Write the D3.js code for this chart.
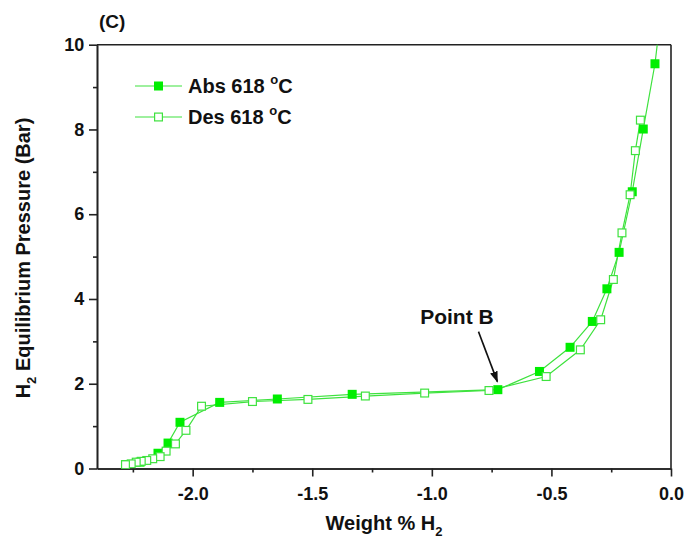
<!DOCTYPE html>
<html><head><meta charset="utf-8">
<script src="https://cdn.jsdelivr.net/npm/d3@7"></script>
<style>body{margin:0;background:#fff}text{font-family:Arial,"Liberation Sans",sans-serif;font-weight:bold}</style>
</head><body><svg id="c" width="686" height="547"></svg>
<script>
const absX = [-2.28, -2.22, -2.145, -2.103, -2.053, -1.887, -1.646, -1.333, -0.724, -0.55, -0.422, -0.329, -0.268, -0.217, -0.162, -0.116, -0.067, -0.045];
const absY = [0.09, 0.15, 0.36, 0.60, 1.09, 1.56, 1.64, 1.75, 1.86, 2.29, 2.86, 3.47, 4.24, 5.10, 6.53, 8.01, 9.55, 10.6];
const desX = [-0.128, -0.149, -0.171, -0.205, -0.241, -0.294, -0.379, -0.522, -0.761, -1.030, -1.278, -1.518, -1.75, -1.963, -2.028, -2.072, -2.111, -2.136, -2.167, -2.192, -2.215, -2.236, -2.257, -2.281];
const desY = [8.22, 7.50, 6.46, 5.56, 4.46, 3.51, 2.80, 2.17, 1.84, 1.78, 1.71, 1.63, 1.58, 1.47, 0.90, 0.58, 0.41, 0.28, 0.23, 0.19, 0.17, 0.15, 0.11, 0.09];
const xTicks = [-2.0, -1.5, -1.0, -0.5, 0.0];
const xMinor = [-2.25, -1.75, -1.25, -0.75, -0.25];
const yTicks = [0, 2, 4, 6, 8, 10];
const yMinor = [1, 3, 5, 7, 9];
const legendLabels = ["Abs 618 ", "Des 618 "];
const annotation = {text: "Point B", tx: -0.895, ty: 3.41, ax0: -0.805, ay0: 3.23, ax1: -0.726, ay1: 2.05};

const svg = d3.select("#c");
const L = 97, R = 671, T = 44.7, B = 468.5;
const x = d3.scaleLinear().domain([-2.4, 0]).range([L, R]);
const y = d3.scaleLinear().domain([0, 10]).range([B, T]);
const green = "#00ee00", lineGreen = "#3ee23e", axisC = "#222";

svg.append("clipPath").attr("id","clip").append("rect").attr("x",L).attr("y",T).attr("width",R-L).attr("height",B-T);

const gx = svg.append("g").attr("transform",`translate(0,${B})`)
  .call(d3.axisBottom(x).tickValues(xTicks).tickFormat(d3.format(".1f")).tickSize(8).tickSizeOuter(0));
const gxm = svg.append("g").attr("transform",`translate(0,${B})`)
  .call(d3.axisBottom(x).tickValues(xMinor).tickFormat("").tickSize(4).tickSizeOuter(0));
const gy = svg.append("g").attr("transform",`translate(${L},0)`)
  .call(d3.axisLeft(y).tickValues(yTicks).tickFormat(d3.format("d")).tickSize(8).tickSizeOuter(0));
const gym = svg.append("g").attr("transform",`translate(${L},0)`)
  .call(d3.axisLeft(y).tickValues(yMinor).tickFormat("").tickSize(4).tickSizeOuter(0));
[gx,gxm,gy,gym].forEach(g=>{g.selectAll("path,line").attr("stroke",axisC).attr("stroke-width",1.6);});
gx.selectAll("text").attr("font-size",18).attr("fill","#111").attr("dy","1.15em").text(d=>d===0?"0.0":d3.format(".1f")(d).replace("−","-"));
gy.selectAll("text").attr("font-size",18).attr("fill","#111").attr("dx","-0.1em");
svg.append("line").attr("x1",L).attr("x2",R).attr("y1",T).attr("y2",T).attr("stroke",axisC).attr("stroke-width",1.6);
svg.append("line").attr("x1",R).attr("x2",R).attr("y1",T).attr("y2",B).attr("stroke",axisC).attr("stroke-width",1.6);

const line = d3.line().x(d=>x(d[0])).y(d=>y(d[1]));
const absD = absX.map((v,i)=>[v,absY[i]]);
const desD = desX.map((v,i)=>[v,desY[i]]);
const plot = svg.append("g").attr("clip-path","url(#clip)");
plot.append("path").datum(absD).attr("d",line).attr("fill","none").attr("stroke",lineGreen).attr("stroke-width",1.2);
plot.append("path").datum(desD).attr("d",line).attr("fill","none").attr("stroke",lineGreen).attr("stroke-width",1.2);
const s = 9;
plot.selectAll(".abs").data(absD).join("rect").attr("x",d=>x(d[0])-s/2).attr("y",d=>y(d[1])-s/2).attr("width",s).attr("height",s).attr("fill",green);
plot.selectAll(".des").data(desD).join("rect").attr("x",d=>x(d[0])-s/2+0.6).attr("y",d=>y(d[1])-s/2+0.6).attr("width",s-1.2).attr("height",s-1.2).attr("fill","#fff").attr("stroke",lineGreen).attr("stroke-width",1.2);

legendLabels.forEach((lab,i)=>{
  const ly = 86 + i*31;
  svg.append("line").attr("x1",135).attr("x2",182).attr("y1",ly).attr("y2",ly).attr("stroke",lineGreen).attr("stroke-width",1.2);
  if(i===0) svg.append("rect").attr("x",154).attr("y",ly-4.5).attr("width",9).attr("height",9).attr("fill",green);
  else svg.append("rect").attr("x",154.6).attr("y",ly-3.9).attr("width",7.8).attr("height",7.8).attr("fill","#fff").attr("stroke",lineGreen).attr("stroke-width",1.2);
  const t = svg.append("text").attr("x",188).attr("y",ly+7).attr("font-size",20).attr("fill","#111");
  t.append("tspan").text(lab);
  t.append("tspan").text("o").attr("font-size",13).attr("dy",-9);
  t.append("tspan").text("C").attr("dy",9);
});

svg.append("text").attr("x",99).attr("y",28).attr("font-size",19).attr("fill","#111").text("(C)");

const xl = svg.append("text").attr("x",384).attr("y",530).attr("text-anchor","middle").attr("font-size",20).attr("fill","#111");
xl.append("tspan").text("Weight % H");
xl.append("tspan").text("2").attr("font-size",13).attr("dy",6);
const yl = svg.append("text").attr("transform","translate(30,258) rotate(-90)").attr("text-anchor","middle").attr("font-size",20).attr("fill","#111");
yl.append("tspan").text("H");
yl.append("tspan").text("2").attr("font-size",13).attr("dy",6);
yl.append("tspan").text(" Equilibrium Pressure (Bar)").attr("dy",-6);

svg.append("defs").append("marker").attr("id","arr").attr("viewBox","0 0 10 10").attr("refX",9).attr("refY",5)
  .attr("markerWidth",7).attr("markerHeight",7).attr("orient","auto")
  .append("path").attr("d","M0,1.5 L10,5 L0,8.5 Z").attr("fill","#111");
svg.append("text").attr("x",x(annotation.tx)).attr("y",y(annotation.ty)).attr("text-anchor","middle").attr("font-size",21).attr("fill","#111").text(annotation.text);
svg.append("line").attr("x1",x(annotation.ax0)).attr("y1",y(annotation.ay0)).attr("x2",x(annotation.ax1)).attr("y2",y(annotation.ay1))
  .attr("stroke","#111").attr("stroke-width",1.6).attr("marker-end","url(#arr)");
</script></body></html>
